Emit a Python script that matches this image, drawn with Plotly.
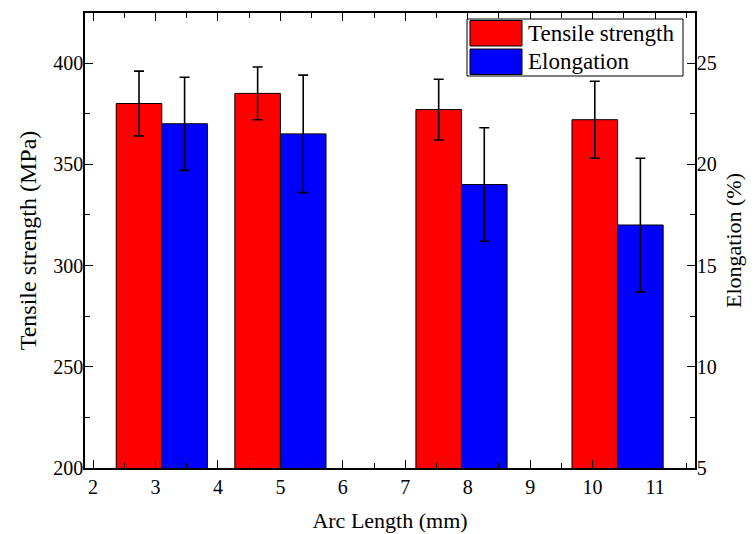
import plotly.graph_objects as go

# Data
group_pos = [3.1, 5.0, 7.9, 10.4]          # x where the red/blue pair meet
tensile = [380, 385, 377, 372]
tensile_err = [16, 13, 15, 19]
elong = [22.0, 21.5, 19.0, 17.0]
elong_err = [2.3, 2.9, 2.8, 3.3]
x_ticks = [2, 3, 4, 5, 6, 7, 8, 9, 10, 11]
y1_ticks = [200, 250, 300, 350, 400]
y2_ticks = [5, 10, 15, 20, 25]

BAR_W = 0.73
FONT = "Liberation Serif, Times New Roman, serif"

# The page body adds an 8 px offset; figure is sized to fill the rest of the window.
OFF = 8
FIG_W, FIG_H = 756 - OFF, 534 - OFF
# plot-area geometry in figure pixels
L, R, T, B = 85 - OFF, 695 - OFF, 13 - OFF, 468 - OFF
PW, PH = R - L, B - T

fig = go.Figure()
fig.add_trace(go.Bar(
    x=group_pos, y=tensile, width=BAR_W, offset=-BAR_W,
    name="Tensile strength", marker=dict(color="#ff0000", line=dict(color="black", width=1)),
    error_y=dict(type="data", array=tensile_err, color="black", thickness=1.6, width=5),
    yaxis="y", showlegend=False,
))
fig.add_trace(go.Bar(
    x=group_pos, y=elong, width=BAR_W, offset=0,
    name="Elongation", marker=dict(color="#0000ff", line=dict(color="black", width=1)),
    error_y=dict(type="data", array=elong_err, color="black", thickness=1.6, width=5),
    yaxis="y2", showlegend=False,
))

axis_common = dict(showline=True, linecolor="black", linewidth=1.5, ticks="inside",
                   ticklen=8, tickwidth=1.3, tickcolor="black", showgrid=False, zeroline=False,
                   automargin=False,
                   tickfont=dict(family=FONT, size=20, color="black"))

fig.update_layout(
    width=FIG_W, height=FIG_H,
    margin=dict(l=L, r=FIG_W - R, t=T, b=FIG_H - B),
    plot_bgcolor="white", paper_bgcolor="white",
    barmode="overlay",
    font=dict(family=FONT, color="black"),
    xaxis=dict(range=[1.87, 11.64], tickvals=x_ticks, ticktext=[str(t) for t in x_ticks],
               mirror="ticks",
               minor=dict(ticks="inside", ticklen=5, tickwidth=1.2, tickcolor="black", dtick=0.5, tick0=0),
               title=dict(text="Arc Length (mm)", font=dict(family=FONT, size=22), standoff=16),
               **axis_common),
    yaxis=dict(range=[200, 424.7], tickvals=y1_ticks, ticklabelstandoff=-4,
               minor=dict(ticks="inside", ticklen=5, tickwidth=1.2, tickcolor="black", dtick=25, tick0=0),
               title=dict(text="Tensile strength (MPa)", font=dict(family=FONT, size=24), standoff=10),
               **axis_common),
    yaxis2=dict(range=[5, 27.47], tickvals=y2_ticks, overlaying="y", side="right",
                ticklabelstandoff=-4,
                minor=dict(ticks="inside", ticklen=5, tickwidth=1.2, tickcolor="black", dtick=2.5, tick0=0),
                title=dict(text="Elongation (%)", font=dict(family=FONT, size=22), standoff=10),
                **axis_common),
)

def px_x(x):
    return (x - OFF - L) / PW

def px_y(y):
    return (B - (y - OFF)) / PH

# Custom legend drawn to look like the reference (large swatches in a box); window pixels
legend_items = [("Tensile strength", "#ff0000"), ("Elongation", "#0000ff")]
lx0, lx1 = 467, 683
ly0, ly1 = 19, 76
row_h = (ly1 - ly0) / 2
fig.add_shape(type="rect", xref="paper", yref="paper",
              x0=px_x(lx0), x1=px_x(lx1), y0=px_y(ly1), y1=px_y(ly0),
              line=dict(color="black", width=1), fillcolor="white", layer="above")
for i, (label, col) in enumerate(legend_items):
    top = ly0 + i * row_h + 1.5
    bot = top + row_h - 3
    fig.add_shape(type="rect", xref="paper", yref="paper",
                  x0=px_x(lx0 + 3), x1=px_x(lx0 + 55),
                  y0=px_y(bot), y1=px_y(top),
                  line=dict(color="black", width=1), fillcolor=col, layer="above")
    fig.add_annotation(xref="paper", yref="paper", x=px_x(lx0 + 59),
                       y=px_y((top + bot) / 2), text=label, showarrow=False,
                       xanchor="left", yanchor="middle",
                       font=dict(family=FONT, size=23, color="black"))

fig.write_html("out.html")
